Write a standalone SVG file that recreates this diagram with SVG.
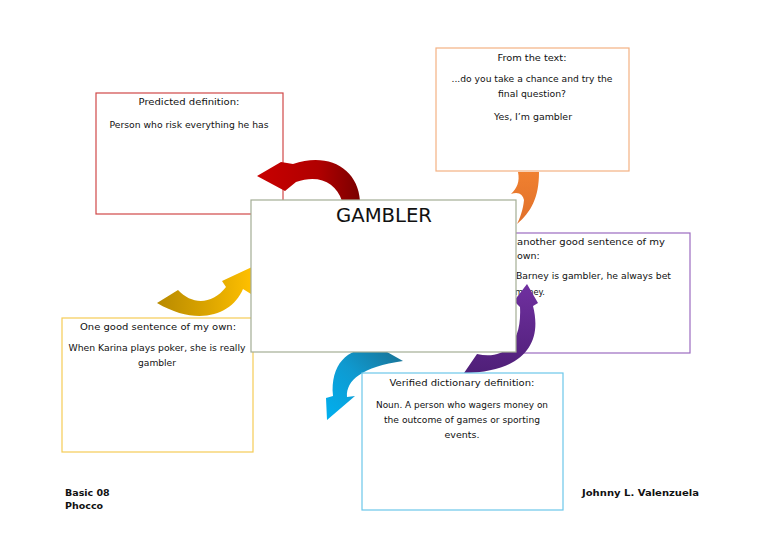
<svg xmlns="http://www.w3.org/2000/svg" width="768" height="543" viewBox="0 0 768 543">
<defs>
<style>
.box{fill:#fff;stroke-width:1.2}
.t{font-family:"DejaVu Sans",Verdana,sans-serif;font-size:9.5px;fill:#111;text-anchor:middle}
.b{font-family:"DejaVu Sans",Verdana,sans-serif;font-size:8.8px;fill:#111;text-anchor:middle}
.l{text-anchor:start}
.f{font-family:"DejaVu Sans",Verdana,sans-serif;font-size:9.5px;font-weight:bold;fill:#111}
</style>
<linearGradient id="gr" x1="0" y1="0" x2="1" y2="0"><stop offset="0" stop-color="#c80000"/><stop offset="0.6" stop-color="#b00000"/><stop offset="1" stop-color="#7a0000"/></linearGradient>
<linearGradient id="go" x1="0" y1="0" x2="0" y2="1"><stop offset="0" stop-color="#f08030"/><stop offset="1" stop-color="#e0702a"/></linearGradient>
<linearGradient id="gy" x1="0" y1="0" x2="1" y2="0"><stop offset="0" stop-color="#b88a00"/><stop offset="0.5" stop-color="#d9a300"/><stop offset="1" stop-color="#ffc000"/></linearGradient>
<linearGradient id="gb" x1="0" y1="1" x2="1" y2="0"><stop offset="0" stop-color="#00b0f0"/><stop offset="0.5" stop-color="#0f9ad0"/><stop offset="1" stop-color="#1b6f90"/></linearGradient>
<linearGradient id="gp" x1="0" y1="1" x2="0" y2="0"><stop offset="0" stop-color="#4f1f78"/><stop offset="1" stop-color="#7030a0"/></linearGradient>
</defs>
<rect width="768" height="543" fill="#fff"/>

<g id="node-predicted">
<rect class="box" x="96" y="93" width="187" height="121" stroke="#d04848"/>
<text class="t" x="189" y="105" textLength="101" lengthAdjust="spacingAndGlyphs">Predicted definition:</text>
<text class="b" x="189" y="128" textLength="159" lengthAdjust="spacingAndGlyphs">Person who risk everything he has</text>
</g>

<g id="node-fromtext">
<rect class="box" x="436" y="48" width="193" height="123" stroke="#f4b183"/>
<text class="t" x="532" y="61" textLength="69" lengthAdjust="spacingAndGlyphs">From the text:</text>
<text class="b" x="532" y="82" textLength="161" lengthAdjust="spacingAndGlyphs">...do you take a chance and try the</text>
<text class="b" x="532" y="97" textLength="68" lengthAdjust="spacingAndGlyphs">final question?</text>
<text class="b" x="533" y="120" textLength="78" lengthAdjust="spacingAndGlyphs">Yes, I’m gambler</text>
</g>

<g id="node-another">
<rect class="box" x="505" y="233" width="185" height="120" stroke="#9b6bc0"/>
<text class="t l" x="517" y="245" textLength="148" lengthAdjust="spacingAndGlyphs">another good sentence of my</text>
<text class="t l" x="517" y="259">own:</text>
<text class="b l" x="516" y="279" textLength="155" lengthAdjust="spacingAndGlyphs">Barney is gambler, he  always bet</text>
<text class="b l" x="515" y="295" textLength="30" lengthAdjust="spacingAndGlyphs">money.</text>
</g>

<g id="node-onegood">
<rect class="box" x="62" y="318" width="191" height="134" stroke="#f5cc55"/>
<text class="t" x="158" y="330" textLength="156" lengthAdjust="spacingAndGlyphs">One good sentence of my own:</text>
<text class="b" x="157" y="351" textLength="177" lengthAdjust="spacingAndGlyphs">When Karina plays poker, she is really</text>
<text class="b" x="157" y="366" textLength="38" lengthAdjust="spacingAndGlyphs">gambler</text>
</g>

<g id="connectors">
<path d="M 360 201 C 358 168 328 152 293 164 L 281 162 L 257 176 L 285 191 L 296 182 C 318 174 336 182 342 201 Z" fill="url(#gr)"/>
<path d="M 517 224 C 531 212 539 198 539 172 L 518 172 C 520 182 517 188 511 194 C 519 191 523 195 524 200 C 523 210 520 218 517 224 Z" fill="url(#go)"/>
<path d="M 157 303 L 178 290 C 192 305 212 305 226 287 L 222 281 L 252 267 L 251 294 L 243 289 C 232 315 198 327 157 303 Z" fill="url(#gy)"/>
<path d="M 380 348 C 350 345 330 362 333 396 L 326 398 L 327 420 L 355 396 L 347 397 C 346 380 362 367 403 361 Z" fill="url(#gb)"/>
<path d="M 464 373 L 477 354 C 503 360 522 345 520 307 L 514 301 L 527 284 L 538 303 L 533 306 C 543 345 522 372 464 373 Z" fill="url(#gp)"/>
</g>

<g id="node-gambler">
<rect class="box" x="251" y="200" width="265" height="152" stroke="#a3ad95" stroke-width="1.5"/>
<text x="384" y="222" font-family="'DejaVu Sans',Verdana,sans-serif" font-size="19.5" fill="#111" text-anchor="middle" textLength="96" lengthAdjust="spacingAndGlyphs">GAMBLER</text>
</g>

<g id="node-verified">
<rect class="box" x="362" y="373" width="201" height="137" stroke="#6cc7ea"/>
<text class="t" x="462" y="386" textLength="145" lengthAdjust="spacingAndGlyphs">Verified dictionary definition:</text>
<text class="b" x="462" y="408" textLength="172" lengthAdjust="spacingAndGlyphs">Noun. A person who wagers money on</text>
<text class="b" x="462" y="423" textLength="156" lengthAdjust="spacingAndGlyphs">the outcome of games or sporting</text>
<text class="b" x="462" y="438" textLength="35" lengthAdjust="spacingAndGlyphs">events.</text>
</g>

<g id="footer">
<text class="f" x="65" y="496">Basic 08</text>
<text class="f" x="65" y="509">Phocco</text>
<text class="f" x="582" y="496" textLength="117" lengthAdjust="spacingAndGlyphs">Johnny L. Valenzuela</text>
</g>
</svg>
